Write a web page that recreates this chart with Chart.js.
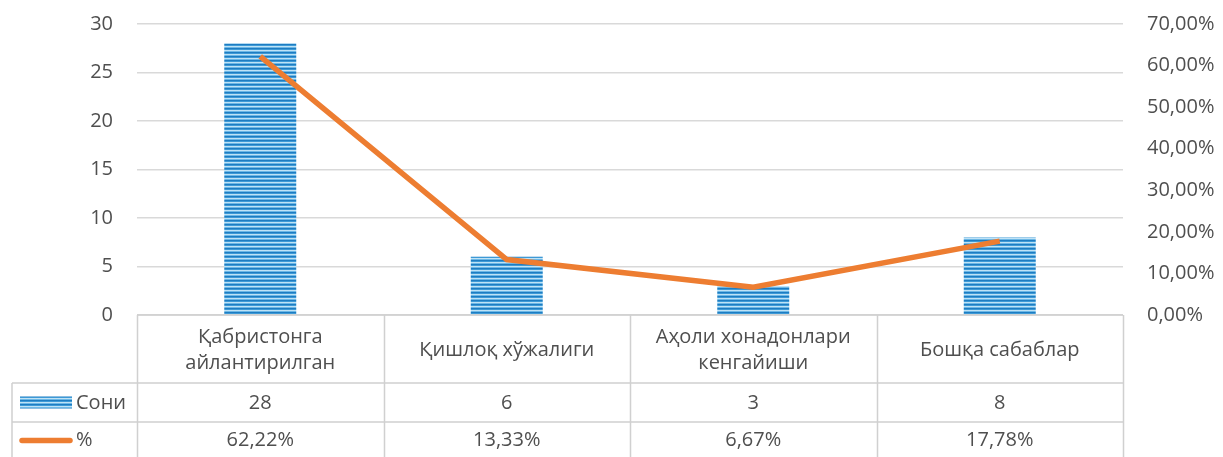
<!DOCTYPE html>
<html>
<head>
<meta charset="utf-8">
<script src="https://cdn.jsdelivr.net/npm/chart.js@4/dist/chart.umd.min.js"></script>
<style>
  html, body { margin: 0; padding: 0; background: #ffffff; }
  #wrap { width: 1223px; height: 457px; }
</style>
</head>
<body>
<div id="wrap"><canvas id="c" width="1223" height="457"></canvas></div>
<script>
// ---- data ----
const categories = [
  ['Қабристонга', 'айлантирилган'],
  ['Қишлоқ хўжалиги'],
  ['Аҳоли хонадонлари', 'кенгайиши'],
  ['Бошқа сабаблар']
];
const countLabel = 'Сони';
const percentLabel = '%';
const counts = [28, 6, 3, 8];
const percents = [62.22, 13.33, 6.67, 17.78];
const countText = ['28', '6', '3', '8'];
const percentText = ['62,22%', '13,33%', '6,67%', '17,78%'];

// ---- styles ----
const FONT = '"Open Sans", "Noto Sans", sans-serif';
const FSIZE = 20;
const TEXT = '#4f4f4f';
const BORDER = '#d0d0d0';

function stripePattern(ctx) {
  const p = document.createElement('canvas');
  p.width = 4; p.height = 4;
  const g = p.getContext('2d');
  const rows = ['#1e7cc2', '#3d9ad6', '#bfe2f6', '#6cb8e6'];
  rows.forEach((c, i) => { g.fillStyle = c; g.fillRect(0, i, 4, 1); });
  return ctx.createPattern(p, 'repeat');
}

const canvas = document.getElementById('c');
const ctx = canvas.getContext('2d');
const barFill = stripePattern(ctx);

const tablePlugin = {
  id: 'dataTable',
  afterDraw(chart) {
    const c = chart.ctx;
    const area = chart.chartArea;
    const xs = chart.scales.x;
    const n = categories.length;
    const colW = (area.right - area.left) / n;
    const top = area.bottom;
    const r1 = top + 68;
    const r2 = r1 + 39;
    const bottom = chart.height;
    const outerLeft = 12;

    c.save();
    c.strokeStyle = BORDER;
    c.lineWidth = 1.5;
    c.beginPath();
    c.moveTo(area.left, top); c.lineTo(area.right, top);
    c.moveTo(outerLeft, r1); c.lineTo(area.right, r1);
    c.moveTo(outerLeft, r2); c.lineTo(area.right, r2);
    for (let i = 0; i <= n; i++) {
      const x = Math.round(area.left + i * colW) + 0.5;
      c.moveTo(x, top); c.lineTo(x, bottom);
    }
    c.moveTo(outerLeft, r1); c.lineTo(outerLeft, bottom);
    c.stroke();

    c.fillStyle = TEXT;
    c.font = FSIZE + 'px ' + FONT;
    c.textAlign = 'center';
    c.textBaseline = 'middle';
    const lh = 26;
    for (let i = 0; i < n; i++) {
      const cx = xs.getPixelForValue(i);
      const lines = categories[i];
      const mid = (top + r1) / 2 + 1;
      const start = mid - (lines.length - 1) * lh / 2;
      lines.forEach((t, k) => c.fillText(t, cx, start + k * lh));
      c.fillText(countText[i], cx, (r1 + r2) / 2 + 1);
      c.fillText(percentText[i], cx, (r2 + bottom) / 2 + 1);
    }

    // legend keys
    c.fillStyle = barFill;
    c.fillRect(20, (r1 + r2) / 2 - 6, 52, 12);
    c.strokeStyle = '#ED7D31';
    c.lineWidth = 5.5;
    c.lineCap = 'round';
    c.beginPath();
    const ly = (r2 + bottom) / 2 + 1;
    c.moveTo(22, ly); c.lineTo(70, ly);
    c.stroke();

    c.fillStyle = TEXT;
    c.textAlign = 'left';
    c.fillText(countLabel, 76, (r1 + r2) / 2 + 1);
    c.fillText(percentLabel, 76, (r2 + bottom) / 2 + 1);
    c.restore();
  }
};

new Chart(ctx, {
  data: {
    labels: categories.map(l => l.join(' ')),
    datasets: [
      {
        type: 'line',
        label: percentLabel,
        data: percents,
        yAxisID: 'y1',
        borderColor: '#ED7D31',
        borderWidth: 5.5,
        pointRadius: 0,
        tension: 0,
        fill: false,
        order: 0
      },
      {
        type: 'bar',
        label: countLabel,
        data: counts,
        yAxisID: 'y',
        backgroundColor: barFill,
        borderWidth: 0,
        barPercentage: 0.292,
        categoryPercentage: 1.0,
        order: 1
      }
    ]
  },
  options: {
    responsive: false,
    animation: false,
    devicePixelRatio: 1,
    layout: { padding: { top: 24, bottom: 142, left: 0, right: 0 } },
    plugins: { legend: { display: false }, tooltip: { enabled: false } },
    scales: {
      x: { display: false },
      y: {
        position: 'left',
        min: 0, max: 30,
        ticks: { stepSize: 5, padding: 24, color: TEXT, font: { family: FONT, size: FSIZE } },
        grid: { color: '#d9d9d9', lineWidth: 1.5, drawTicks: false },
        border: { display: false },
        afterFit(s) { s.width = 137; s.paddingTop = 0; s.paddingBottom = 0; }
      },
      y1: {
        position: 'right',
        min: 0, max: 70,
        ticks: {
          stepSize: 10, padding: 24, color: TEXT, font: { family: FONT, size: FSIZE },
          callback: v => v.toFixed(2).replace('.', ',') + '%'
        },
        grid: { display: false, drawTicks: false },
        border: { display: false },
        afterFit(s) { s.width = 100; s.paddingTop = 0; s.paddingBottom = 0; }
      }
    }
  },
  plugins: [tablePlugin]
});
</script>
</body>
</html>
